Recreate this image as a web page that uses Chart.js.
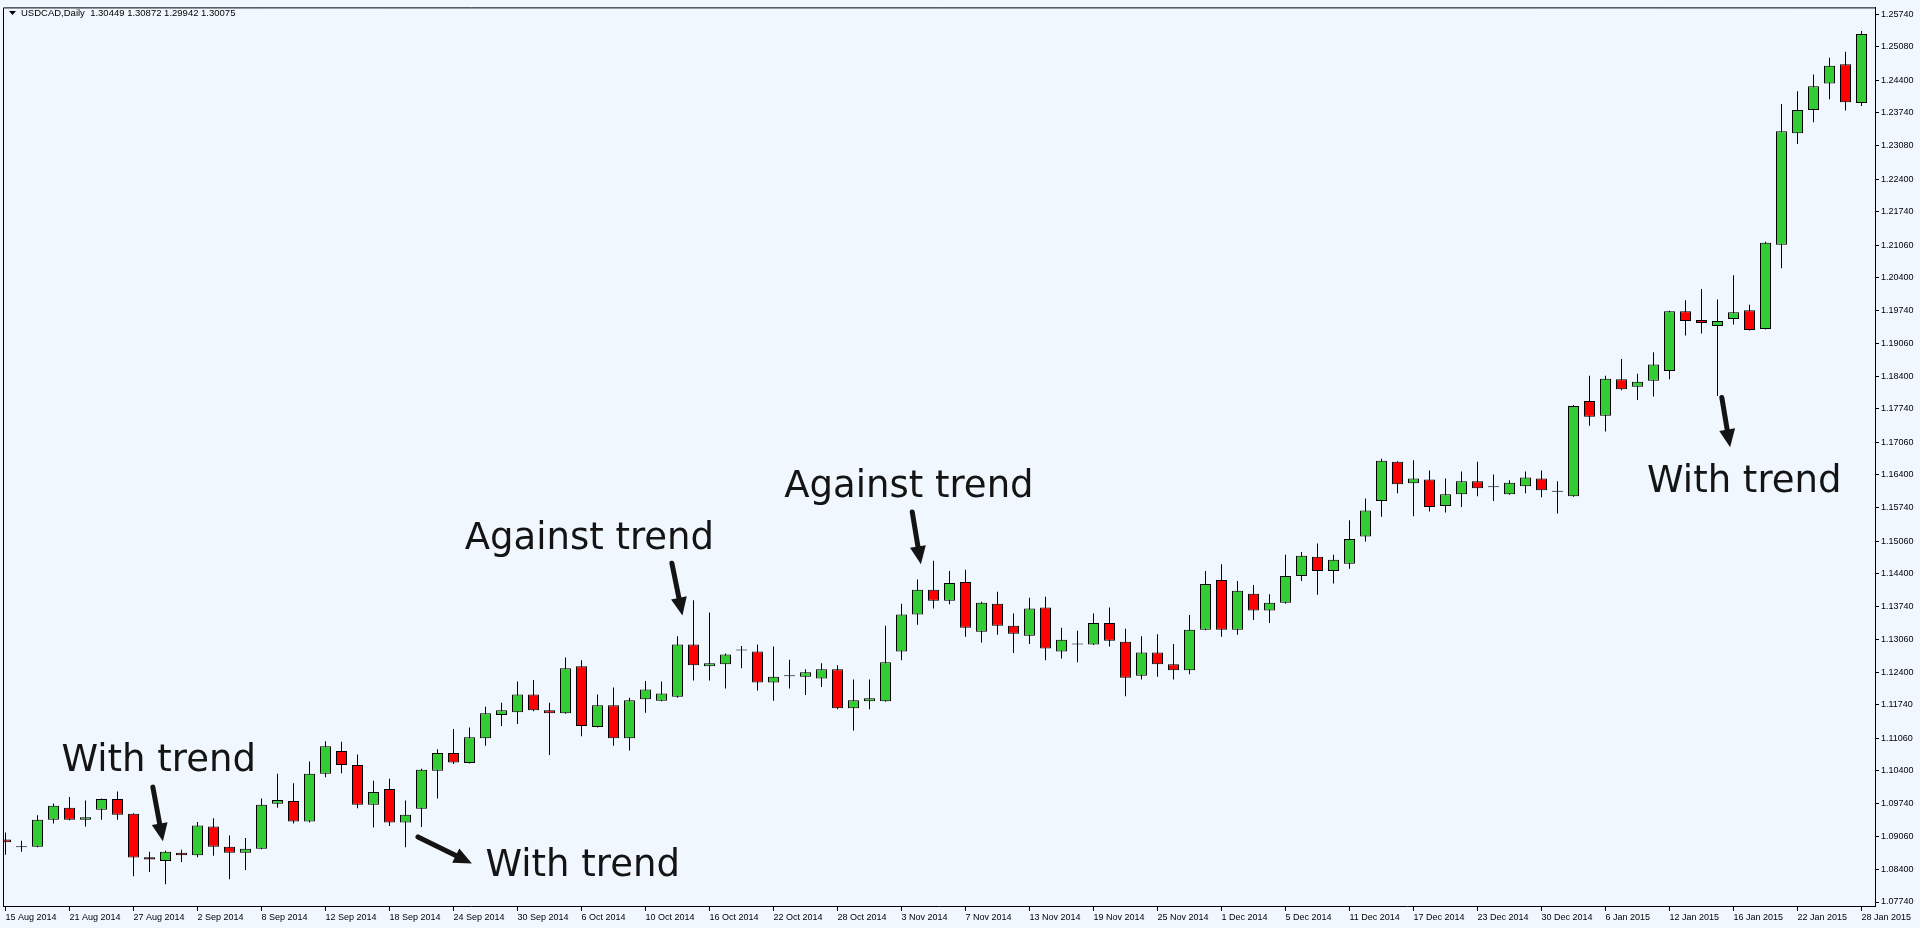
<!DOCTYPE html>
<html lang="en">
<head>
<meta charset="UTF-8">
<title>USDCAD Daily</title>
<script src="https://cdn.jsdelivr.net/npm/chart.js"></script>
<style>
    html, body {
        margin: 0;
        padding: 0;
        background: #f0f7fe;
        overflow: hidden;
    }
    #wrap {
        width: 1920px;
        height: 928px;
    }
</style>
</head>
<body>
<div id="wrap"><canvas id="priceChart" width="1920" height="928"></canvas></div>
<script>
const dates = [
    '15 Aug 2014','18 Aug 2014','19 Aug 2014','20 Aug 2014','21 Aug 2014','22 Aug 2014','25 Aug 2014','26 Aug 2014','27 Aug 2014','28 Aug 2014','29 Aug 2014',
    '1 Sep 2014','2 Sep 2014','3 Sep 2014','4 Sep 2014','5 Sep 2014','8 Sep 2014','9 Sep 2014','10 Sep 2014','11 Sep 2014','12 Sep 2014',
    '15 Sep 2014','16 Sep 2014','17 Sep 2014','18 Sep 2014','19 Sep 2014','22 Sep 2014','23 Sep 2014','24 Sep 2014','25 Sep 2014','26 Sep 2014','29 Sep 2014','30 Sep 2014',
    '1 Oct 2014','2 Oct 2014','3 Oct 2014','6 Oct 2014','7 Oct 2014','8 Oct 2014','9 Oct 2014','10 Oct 2014','13 Oct 2014','14 Oct 2014','15 Oct 2014','16 Oct 2014',
    '17 Oct 2014','20 Oct 2014','21 Oct 2014','22 Oct 2014','23 Oct 2014','24 Oct 2014','27 Oct 2014','28 Oct 2014','29 Oct 2014','30 Oct 2014','31 Oct 2014',
    '3 Nov 2014','4 Nov 2014','5 Nov 2014','6 Nov 2014','7 Nov 2014','10 Nov 2014','11 Nov 2014','12 Nov 2014','13 Nov 2014','14 Nov 2014',
    '17 Nov 2014','18 Nov 2014','19 Nov 2014','20 Nov 2014','21 Nov 2014','24 Nov 2014','25 Nov 2014','26 Nov 2014','27 Nov 2014','28 Nov 2014',
    '1 Dec 2014','2 Dec 2014','3 Dec 2014','4 Dec 2014','5 Dec 2014','8 Dec 2014','9 Dec 2014','10 Dec 2014','11 Dec 2014','12 Dec 2014',
    '15 Dec 2014','16 Dec 2014','17 Dec 2014','18 Dec 2014','19 Dec 2014','22 Dec 2014','23 Dec 2014','24 Dec 2014','26 Dec 2014','29 Dec 2014','30 Dec 2014','31 Dec 2014',
    '2 Jan 2015','5 Jan 2015','6 Jan 2015','7 Jan 2015','8 Jan 2015','9 Jan 2015','12 Jan 2015','13 Jan 2015','14 Jan 2015','15 Jan 2015','16 Jan 2015',
    '19 Jan 2015','20 Jan 2015','21 Jan 2015','22 Jan 2015','23 Jan 2015','26 Jan 2015','27 Jan 2015','28 Jan 2015'
];

const opens = [
    1.0901,1.0886,1.0886,1.0941,1.0965,1.0941,1.0961,1.0983,1.0953,1.0865,
    1.0857,1.0874,1.0869,1.0927,1.0886,1.0874,1.0882,1.0973,1.0979,1.0937,
    1.1034,1.1080,1.1052,1.0971,1.1003,1.0935,1.0963,1.1040,1.1076,1.1056,
    1.1106,1.1153,1.1159,1.1195,1.1163,1.1157,1.1252,1.1129,1.1173,1.1106,
    1.1185,1.1182,1.1190,1.1296,1.1252,1.1256,1.1285,1.1282,1.1219,1.1233,
    1.1231,1.1227,1.1246,1.1167,1.1181,1.1181,1.1282,1.1357,1.1407,1.1385,
    1.1423,1.1322,1.1379,1.1334,1.1314,1.1371,1.1282,1.1297,1.1296,1.1340,
    1.1302,1.1233,1.1280,1.1256,1.1244,1.1326,1.1427,1.1326,1.1399,1.1365,
    1.1381,1.1435,1.1474,1.1445,1.1460,1.1515,1.1587,1.1667,1.1623,1.1631,
    1.1577,1.1601,1.1627,1.1616,1.1601,1.1617,1.1633,1.1607,1.1597,1.1790,
    1.1760,1.1834,1.1819,1.1831,1.1851,1.1972,1.1954,1.1942,1.1956,1.1974,
    1.1936,1.2107,1.2333,1.2380,1.2434,1.2473,1.2394
];
const highs = [
    1.0915,1.0898,1.0950,1.0974,1.0987,1.0980,1.0984,1.0998,1.0954,1.0876,
    1.0878,1.0880,1.0936,1.0944,1.0909,1.0904,1.0984,1.1034,1.1015,1.1059,
    1.1100,1.1099,1.1073,1.1020,1.1024,1.0980,1.1044,1.1084,1.1125,1.1128,
    1.1170,1.1178,1.1221,1.1224,1.1178,1.1270,1.1264,1.1195,1.1209,1.1188,
    1.1222,1.1221,1.1313,1.1386,1.1361,1.1278,1.1293,1.1296,1.1292,1.1265,
    1.1246,1.1258,1.1254,1.1225,1.1225,1.1334,1.1379,1.1428,1.1466,1.1445,
    1.1448,1.1383,1.1403,1.1359,1.1391,1.1393,1.1330,1.1324,1.1359,1.1371,
    1.1328,1.1313,1.1317,1.1297,1.1356,1.1445,1.1459,1.1425,1.1417,1.1398,
    1.1478,1.1484,1.1501,1.1478,1.1548,1.1592,1.1673,1.1668,1.1670,1.1649,
    1.1633,1.1647,1.1667,1.1641,1.1629,1.1647,1.1649,1.1627,1.1782,1.1841,
    1.1841,1.1875,1.1845,1.1889,1.1973,1.1994,1.2017,1.1996,1.2045,1.1985,
    1.2113,1.2392,1.2418,1.2452,1.2486,1.2498,1.2540
];
const lows = [
    1.0870,1.0876,1.0885,1.0933,1.0940,1.0927,1.0941,1.0941,1.0826,1.0835,
    1.0810,1.0855,1.0865,1.0868,1.0820,1.0839,1.0881,1.0965,1.0933,1.0935,
    1.1027,1.1035,1.0964,1.0925,1.0928,1.0885,1.0926,1.0984,1.1054,1.1055,
    1.1091,1.1131,1.1135,1.1161,1.1072,1.1156,1.1110,1.1128,1.1091,1.1081,
    1.1158,1.1181,1.1188,1.1223,1.1223,1.1207,1.1248,1.1203,1.1182,1.1207,
    1.1194,1.1210,1.1165,1.1122,1.1165,1.1180,1.1264,1.1336,1.1369,1.1378,
    1.1312,1.1300,1.1316,1.1279,1.1297,1.1264,1.1268,1.1260,1.1295,1.1292,
    1.1191,1.1225,1.1231,1.1225,1.1236,1.1325,1.1312,1.1316,1.1346,1.1340,
    1.1379,1.1425,1.1397,1.1420,1.1450,1.1505,1.1555,1.1603,1.1556,1.1566,
    1.1564,1.1575,1.1597,1.1587,1.1600,1.1603,1.1595,1.1562,1.1596,1.1740,
    1.1728,1.1812,1.1792,1.1799,1.1834,1.1923,1.1927,1.1800,1.1945,1.1933,
    1.1935,1.2059,1.2311,1.2355,1.2402,1.2379,1.2388
];
const closes = [
    1.0895,1.0886,1.0941,1.0969,1.0941,1.0946,1.0983,1.0951,1.0864,1.0860,
    1.0876,1.0869,1.0929,1.0886,1.0874,1.0882,1.0971,1.0981,1.0937,1.1034,
    1.1090,1.1052,1.0971,1.0997,1.0935,1.0951,1.1042,1.1076,1.1057,1.1108,
    1.1157,1.1163,1.1195,1.1163,1.1157,1.1248,1.1131,1.1173,1.1106,1.1183,
    1.1205,1.1197,1.1296,1.1254,1.1258,1.1276,1.1285,1.1219,1.1231,1.1233,
    1.1240,1.1246,1.1167,1.1183,1.1187,1.1260,1.1357,1.1407,1.1385,1.1421,
    1.1330,1.1381,1.1334,1.1318,1.1369,1.1288,1.1306,1.1297,1.1340,1.1304,
    1.1229,1.1280,1.1256,1.1244,1.1326,1.1419,1.1326,1.1405,1.1365,1.1381,
    1.1435,1.1476,1.1445,1.1468,1.1510,1.1568,1.1669,1.1621,1.1633,1.1575,
    1.1601,1.1627,1.1613,1.1616,1.1624,1.1635,1.1609,1.1607,1.1780,1.1758,
    1.1835,1.1814,1.1829,1.1864,1.1972,1.1952,1.1948,1.1952,1.1970,1.1934,
    1.2111,1.2337,1.2380,1.2428,1.2470,1.2396,1.2534
];

const priceTicks = [
    '1.25740','1.25080','1.24400','1.23740','1.23080','1.22400','1.21740','1.21060','1.20400','1.19740',
    '1.19060','1.18400','1.17740','1.17060','1.16400','1.15740','1.15060','1.14400','1.13740','1.13060',
    '1.12400','1.11740','1.11060','1.10400','1.09740','1.09060','1.08400','1.07740'
];

const chartTitle = 'USDCAD,Daily  1.30449 1.30872 1.29942 1.30075';

// annotations, placed in bar index / price units
const notes = [
    { text: 'With trend',    at: [3.5, 1.1040],   from: [9.21, 1.1007],  to: [9.84, 1.0897] },
    { text: 'With trend',    at: [30.0, 1.0826],  from: [25.78, 1.0906], to: [29.15, 1.0852] },
    { text: 'Against trend', at: [28.7, 1.1490],  from: [41.65, 1.1461], to: [42.31, 1.1355] },
    { text: 'Against trend', at: [48.67, 1.1595], from: [56.67, 1.1565], to: [57.21, 1.1459] },
    { text: 'With trend',    at: [102.6, 1.1605], from: [107.27, 1.1797], to: [107.79, 1.1696] }
];

const UP = '#32cd32';
const DOWN = '#ff0000';
const FONT = '"Liberation Sans", Arial, sans-serif';

function bodyColor(i) {
    if (closes[i] > opens[i]) return UP;
    if (closes[i] < opens[i]) return DOWN;
    return '#000000';
}

const bodies = dates.map((d, i) => ({
    x: i,
    y: opens[i] === closes[i] ? [opens[i] - 0.0001, opens[i] + 0.0001] : [opens[i], closes[i]]
}));
const wicks = dates.map((d, i) => ({ x: i, y: [lows[i], highs[i]] }));

function drawArrow(ctx, x1, y1, x2, y2) {
    const ang = Math.atan2(y2 - y1, x2 - x1);
    const head = 18, half = 8;
    const bx = x2 - head * Math.cos(ang), by = y2 - head * Math.sin(ang);
    ctx.lineWidth = 5;
    ctx.lineCap = 'round';
    ctx.beginPath();
    ctx.moveTo(x1, y1);
    ctx.lineTo(bx, by);
    ctx.stroke();
    ctx.beginPath();
    ctx.moveTo(x2, y2);
    ctx.lineTo(bx + half * Math.sin(ang), by - half * Math.cos(ang));
    ctx.lineTo(bx - half * Math.sin(ang), by + half * Math.cos(ang));
    ctx.closePath();
    ctx.fill();
}

const overlay = {
    id: 'overlay',
    afterDraw(chart) {
        const { ctx, chartArea: a, scales: { x, y } } = chart;
        ctx.save();

        // frame on the left and top, axes draw the other two sides
        ctx.strokeStyle = '#000';
        ctx.lineWidth = 1;
        ctx.beginPath();
        ctx.moveTo(a.left + 0.5, a.bottom);
        ctx.lineTo(a.left + 0.5, a.top + 0.5);
        ctx.lineTo(a.right, a.top + 0.5);
        ctx.stroke();

        // header line
        ctx.fillStyle = '#000';
        ctx.beginPath();
        ctx.moveTo(9, 11);
        ctx.lineTo(16, 11);
        ctx.lineTo(12.5, 15);
        ctx.closePath();
        ctx.fill();
        ctx.font = '9.5px ' + FONT;
        ctx.textBaseline = 'alphabetic';
        ctx.textAlign = 'left';
        ctx.fillText(chartTitle, 21, 16);

        // annotations
        ctx.fillStyle = '#141414';
        ctx.strokeStyle = '#141414';
        ctx.font = '37px "DejaVu Sans", sans-serif';
        notes.forEach(n => {
            ctx.fillText(n.text, x.getPixelForValue(n.at[0]), y.getPixelForValue(n.at[1]));
            drawArrow(ctx,
                x.getPixelForValue(n.from[0]), y.getPixelForValue(n.from[1]),
                x.getPixelForValue(n.to[0]), y.getPixelForValue(n.to[1]));
        });
        ctx.restore();
    }
};

new Chart(document.getElementById('priceChart').getContext('2d'), {
    type: 'bar',
    data: {
        datasets: [
            {
                label: 'body',
                data: bodies,
                backgroundColor: dates.map((d, i) => bodyColor(i)),
                borderColor: '#000000',
                borderWidth: 1,
                borderSkipped: false,
                barThickness: 11,
                grouped: false,
                inflateAmount: 0,
                order: 1
            },
            {
                label: 'wick',
                data: wicks,
                backgroundColor: '#000000',
                borderWidth: 0,
                barThickness: 1,
                grouped: false,
                inflateAmount: 0,
                order: 2
            }
        ]
    },
    options: {
        responsive: false,
        animation: false,
        devicePixelRatio: 1,
        layout: { padding: { left: 3, top: 3, right: 0, bottom: 0 } },
        plugins: {
            legend: { display: false },
            tooltip: { enabled: false }
        },
        scales: {
            x: {
                type: 'linear',
                min: -0.15625,
                max: 116.84375,
                offset: false,
                afterBuildTicks: s => {
                    s.ticks = dates.map((d, i) => i).filter(i => i % 4 === 0).map(i => ({ value: i }));
                },
                afterFit: s => { s.height = 22; },
                grid: { drawOnChartArea: false, drawTicks: true, tickLength: 5, color: '#000', offset: false },
                border: { display: true, color: '#000' },
                ticks: {
                    align: 'start',
                    autoSkip: false,
                    maxRotation: 0,
                    minRotation: 0,
                    padding: 1,
                    color: '#000',
                    font: { family: FONT, size: 9 },
                    callback: v => dates[v]
                }
            },
            y: {
                type: 'linear',
                position: 'right',
                min: 1.07659,
                max: 1.25881,
                afterBuildTicks: s => {
                    s.ticks = priceTicks.map(t => ({ value: parseFloat(t) })).reverse();
                },
                afterFit: s => { s.width = 45; },
                grid: { drawOnChartArea: false, tickLength: 4, color: '#000' },
                border: { display: true, color: '#000' },
                ticks: {
                    autoSkip: false,
                    padding: 2,
                    color: '#000',
                    font: { family: FONT, size: 9 },
                    callback: v => v.toFixed(5)
                }
            }
        }
    },
    plugins: [overlay]
});
</script>
</body>
</html>
